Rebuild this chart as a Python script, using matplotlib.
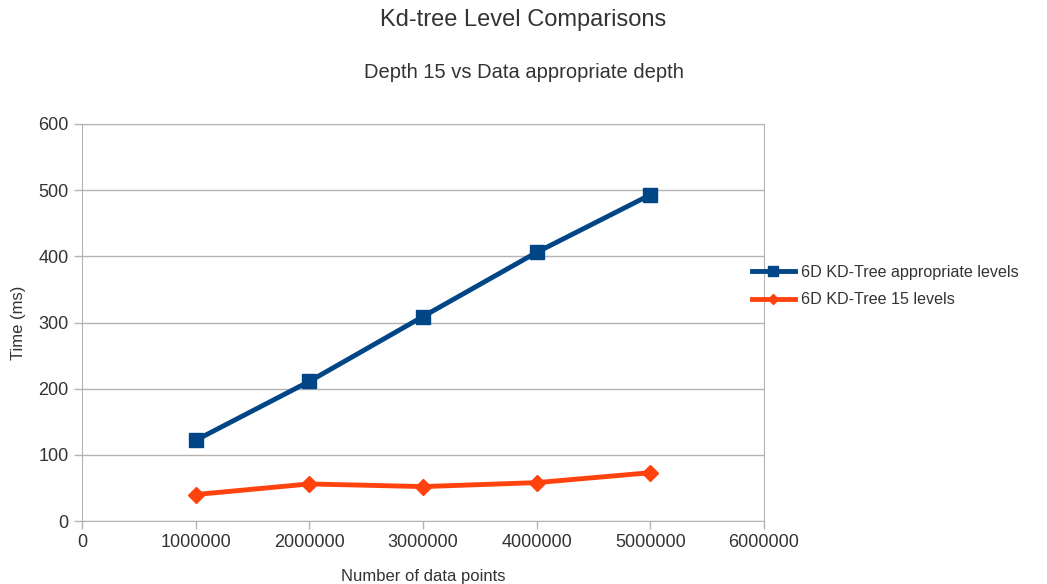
import matplotlib.pyplot as plt

plt.rcParams['font.family'] = ['Liberation Sans', 'DejaVu Sans']

# timings in ms for each tree configuration
points = [1000000, 2000000, 3000000, 4000000, 5000000]
appropriate_levels = [122, 211, 309, 406, 493]
fixed_15_levels = [40, 56, 52, 58, 73]

grid_color = '#b3b3b3'
text_color = '#333333'

fig = plt.figure(figsize=(10.47, 5.84), dpi=100)
ax = fig.add_axes([82 / 1047, 1 - 521 / 584, (764 - 82) / 1047, (521 - 124) / 584])

ax.plot(points, appropriate_levels, color='#004586', lw=3.5, marker='s', markersize=10,
        label='6D KD-Tree appropriate levels')
ax.plot(points, fixed_15_levels, color='#ff420e', lw=3.5, marker='D', markersize=8,
        label='6D KD-Tree 15 levels')

ax.set_xlim(0, 6000000)
ax.set_ylim(0, 600)
ax.set_xticks(range(0, 6000001, 1000000))
ax.set_xticklabels([str(v) for v in range(0, 6000001, 1000000)])
ax.set_yticks(range(0, 601, 100))
ax.yaxis.grid(True, color=grid_color, lw=1)
ax.set_axisbelow(True)
for s in ax.spines.values():
    s.set_color(grid_color)
ax.tick_params(colors=grid_color, labelcolor=text_color, labelsize=13, length=6, width=1)

ax.set_xlabel('Number of data points', color=text_color, fontsize=12, labelpad=13)
ax.set_ylabel('Time (ms)', color=text_color, fontsize=12, labelpad=9)

fig.text(0.5, 1 - 20 / 584, 'Kd-tree Level Comparisons', ha='center', va='center',
         fontsize=17, color=text_color)
fig.text(0.5, 1 - 72 / 584, 'Depth 15 vs Data appropriate depth', ha='center', va='center',
         fontsize=14.5, color=text_color)

fig.legend(loc='center left', bbox_to_anchor=(737 / 1047, 1 - 286 / 584), frameon=False,
           fontsize=11.6, labelcolor=text_color, handlelength=2.7, handletextpad=0.35,
           labelspacing=0.8, markerscale=0.7)

fig.savefig('out.png', dpi=100)
